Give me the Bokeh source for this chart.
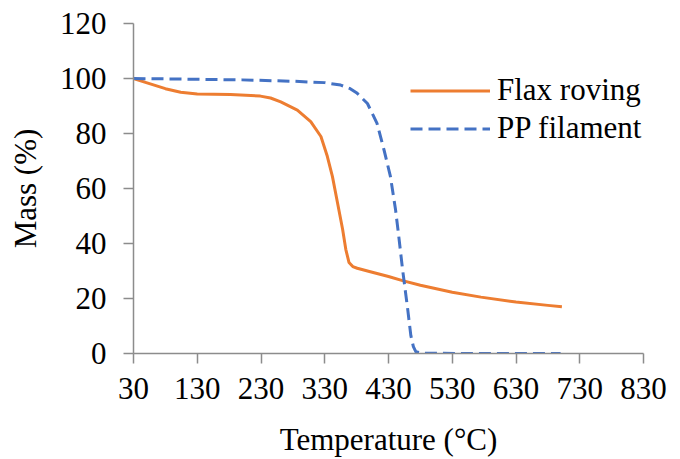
from bokeh.plotting import figure
from bokeh.models import ColumnDataSource, FixedTicker, Legend, LegendItem, Range1d
from bokeh.embed import file_html
from bokeh.resources import INLINE

# Data
flax_temp = [30, 50, 80, 104, 130, 182, 229, 245, 261, 287, 308, 324, 334, 342, 350, 358,
             363, 368, 374, 381, 400, 430, 452, 480, 530, 575, 630, 680, 702]
flax_mass = [100, 98.5, 96.3, 95, 94.4, 94.2, 93.6, 92.9, 91.5, 88.5, 84.3, 78.9, 71.7, 64.4,
             54.8, 45.2, 37.9, 33.1, 31.6, 31, 29.8, 28, 26.5, 24.8, 22.3, 20.5, 18.7, 17.5, 17]

pp_temp = [30, 100, 200, 280, 330, 355, 370, 381, 397, 412, 423, 433, 441, 446, 452, 460,
           465, 469, 473, 485, 550, 700]
pp_mass = [100, 99.8, 99.5, 99, 98.5, 97.6, 96.3, 94.6, 90.9, 83.7, 74, 64.4, 52.4, 42.8,
           30.7, 16.3, 6.6, 2.5, 0.6, 0.1, 0, 0]

x_ticks = [30, 130, 230, 330, 430, 530, 630, 730, 830]
y_ticks = [0, 20, 40, 60, 80, 100, 120]

series_names = ["Flax roving", "PP filament"]
x_label = "Temperature (°C)"
y_label = "Mass (%)"

FONT = "Liberation Serif"
FS = "31px"
AXIS_COLOR = "#8c8c8c"

p = figure(width=680, height=459, output_backend="svg", toolbar_location=None,
           x_range=Range1d(30, 830), y_range=Range1d(0, 120),
           min_border_left=133, min_border_right=37, min_border_top=23, min_border_bottom=104)

flax_src = ColumnDataSource(dict(x=flax_temp, y=flax_mass))
pp_src = ColumnDataSource(dict(x=pp_temp, y=pp_mass))

r_flax = p.line("x", "y", source=flax_src, line_color="#ED7D31", line_width=3,
                line_join="round")
r_pp = p.line("x", "y", source=pp_src, line_color="#4472C4", line_width=3, line_dash="12 6",
              line_join="round")

p.grid.visible = False
p.outline_line_color = None

for ax in (p.xaxis[0], p.yaxis[0]):
    ax.axis_line_color = AXIS_COLOR
    ax.axis_line_width = 1.5
    ax.major_tick_line_color = AXIS_COLOR
    ax.major_tick_line_width = 1.5
    ax.major_tick_in = 0
    ax.major_tick_out = 10
    ax.minor_tick_line_color = None
    ax.major_label_text_font = FONT
    ax.major_label_text_font_size = FS
    ax.major_label_text_color = "#000000"
    ax.axis_label_text_font = FONT
    ax.axis_label_text_font_size = FS
    ax.axis_label_text_font_style = "normal"
    ax.axis_label_text_color = "#000000"

p.xaxis.ticker = FixedTicker(ticks=x_ticks)
p.yaxis.ticker = FixedTicker(ticks=y_ticks)
p.xaxis.axis_label = x_label
p.yaxis.axis_label = y_label
p.xaxis.major_label_standoff = 14
p.yaxis.major_label_standoff = 17
p.xaxis.axis_label_standoff = 20
p.yaxis.axis_label_standoff = 14

legend = Legend(items=[LegendItem(label=series_names[0], renderers=[r_flax]),
                       LegendItem(label=series_names[1], renderers=[r_pp])],
                location=(277, 207))
legend.label_text_font = FONT
legend.label_text_font_size = FS
legend.label_text_color = "#000000"
legend.glyph_width = 80
legend.glyph_height = 35
legend.spacing = 2
legend.padding = 0
legend.margin = 0
legend.label_standoff = 7
legend.border_line_color = None
legend.background_fill_alpha = 0
p.add_layout(legend, "center")

open("out.html", "w").write(file_html(p, INLINE))
